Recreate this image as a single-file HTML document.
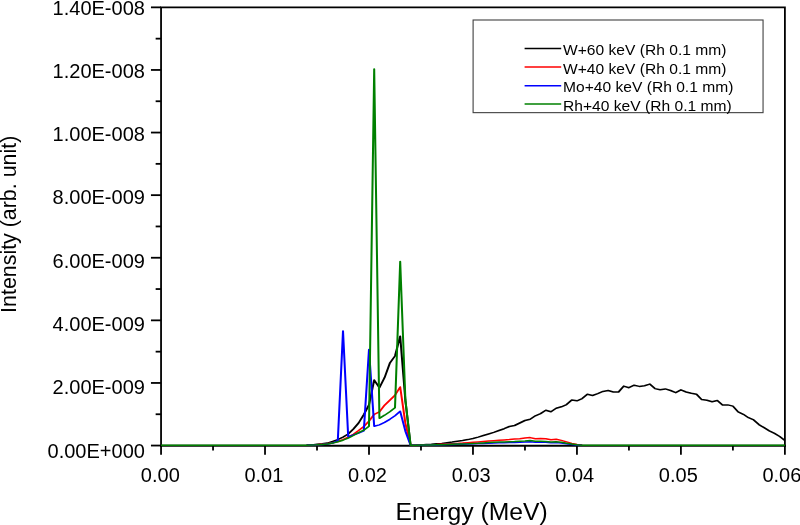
<!DOCTYPE html>
<html>
<head>
<meta charset="utf-8">
<title>Intensity vs Energy</title>
<style>
html,body{margin:0;padding:0;background:#fff;}
body{width:800px;height:525px;overflow:hidden;}
svg{display:block;will-change:transform;}
text{font-family:"Liberation Sans",sans-serif;fill:#000;}
.tk{font-size:20px;}
.lg{font-size:14.7px;}
</style>
</head>
<body>
<svg width="800" height="525" viewBox="0 0 800 525">
<rect x="0" y="0" width="800" height="525" fill="#ffffff"/>

<g stroke="#000" stroke-width="1.8" fill="none" stroke-linecap="butt">
<path d="M161.05 446.65 V7.35 H784.9 V446.65" stroke-linejoin="miter"/>
<line x1="160.15" y1="445.75" x2="785.80" y2="445.75"/>
<line x1="150.95" y1="445.55" x2="161.05" y2="445.55"/>
<line x1="155.65" y1="414.25" x2="161.05" y2="414.25"/>
<line x1="150.95" y1="382.95" x2="161.05" y2="382.95"/>
<line x1="155.65" y1="351.65" x2="161.05" y2="351.65"/>
<line x1="150.95" y1="320.35" x2="161.05" y2="320.35"/>
<line x1="155.65" y1="289.05" x2="161.05" y2="289.05"/>
<line x1="150.95" y1="257.75" x2="161.05" y2="257.75"/>
<line x1="155.65" y1="226.45" x2="161.05" y2="226.45"/>
<line x1="150.95" y1="195.15" x2="161.05" y2="195.15"/>
<line x1="155.65" y1="163.85" x2="161.05" y2="163.85"/>
<line x1="150.95" y1="132.55" x2="161.05" y2="132.55"/>
<line x1="155.65" y1="101.25" x2="161.05" y2="101.25"/>
<line x1="150.95" y1="69.95" x2="161.05" y2="69.95"/>
<line x1="155.65" y1="38.65" x2="161.05" y2="38.65"/>
<line x1="150.95" y1="7.35" x2="161.05" y2="7.35"/>
<line x1="161.05" y1="445.55" x2="161.05" y2="454.85"/>
<line x1="213.04" y1="445.55" x2="213.04" y2="450.55"/>
<line x1="265.02" y1="445.55" x2="265.02" y2="454.85"/>
<line x1="317.01" y1="445.55" x2="317.01" y2="450.55"/>
<line x1="369.00" y1="445.55" x2="369.00" y2="454.85"/>
<line x1="420.99" y1="445.55" x2="420.99" y2="450.55"/>
<line x1="472.97" y1="445.55" x2="472.97" y2="454.85"/>
<line x1="524.96" y1="445.55" x2="524.96" y2="450.55"/>
<line x1="576.95" y1="445.55" x2="576.95" y2="454.85"/>
<line x1="628.94" y1="445.55" x2="628.94" y2="450.55"/>
<line x1="680.92" y1="445.55" x2="680.92" y2="454.85"/>
<line x1="732.91" y1="445.55" x2="732.91" y2="450.55"/>
<line x1="784.90" y1="445.55" x2="784.90" y2="454.85"/>
</g>
<text class="tk" x="144.9" y="457.60" text-anchor="end">0.00E+000</text>
<text class="tk" x="144.9" y="394.30" text-anchor="end">2.00E-009</text>
<text class="tk" x="144.9" y="331.00" text-anchor="end">4.00E-009</text>
<text class="tk" x="144.9" y="267.70" text-anchor="end">6.00E-009</text>
<text class="tk" x="144.9" y="204.40" text-anchor="end">8.00E-009</text>
<text class="tk" x="144.9" y="141.10" text-anchor="end">1.00E-008</text>
<text class="tk" x="144.9" y="77.80" text-anchor="end">1.20E-008</text>
<text class="tk" x="144.9" y="14.50" text-anchor="end">1.40E-008</text>
<text class="tk" x="160.30" y="482.3" text-anchor="middle">0.00</text>
<text class="tk" x="263.90" y="482.3" text-anchor="middle">0.01</text>
<text class="tk" x="367.50" y="482.3" text-anchor="middle">0.02</text>
<text class="tk" x="471.10" y="482.3" text-anchor="middle">0.03</text>
<text class="tk" x="574.70" y="482.3" text-anchor="middle">0.04</text>
<text class="tk" x="678.30" y="482.3" text-anchor="middle">0.05</text>
<text class="tk" x="781.90" y="482.3" text-anchor="middle">0.06</text>
<text x="471.6" y="520.1" text-anchor="middle" font-size="24.7">Energy (MeV)</text>
<text transform="translate(15.7 224.3) rotate(-90)" text-anchor="middle" font-size="21.4">Intensity (arb. unit)</text>
<g transform="scale(1.35 1)">
<polyline points="227.12,445.1 230.97,444.9 234.82,444.3 238.67,443.8 242.53,443.1 246.38,441.5 250.23,439.6 254.08,437.1 257.93,434.0 261.78,429.0 265.63,423.0 269.48,414.6 273.33,404.9 277.18,380.1 281.04,387.7 284.89,377.6 288.74,363.2 292.59,356.0 296.44,336.2 300.29,400.5 304.14,445.2 307.99,445.1 311.84,444.9 315.69,444.6 319.54,444.3 323.40,443.8 327.25,443.4 331.10,442.7 334.95,442.1 338.80,441.3 342.65,440.6 346.50,439.6 350.35,438.5 354.20,437.1 358.05,435.5 361.90,434.0 365.76,432.4 369.61,430.5 373.46,428.7 377.31,426.5 381.16,425.5 385.01,423.0 388.86,420.5 392.71,419.3 396.56,415.8 400.41,413.6 404.26,410.2 408.12,411.8 411.97,408.3 415.82,406.8 419.67,404.6 423.52,399.9 427.37,400.8 431.22,398.6 435.07,394.2 438.92,395.5 442.77,393.6 446.62,391.4 450.48,390.5 454.33,392.0 458.18,392.0 462.03,386.1 465.88,387.7 469.73,385.2 473.58,386.4 477.43,385.8 481.28,384.1 485.13,388.6 488.99,389.8 492.84,388.9 496.69,390.5 500.54,392.7 504.39,389.8 508.24,392.0 512.09,393.3 515.94,394.2 519.79,399.6 523.64,400.2 527.49,401.7 531.35,400.5 535.20,404.9 539.05,404.9 542.90,406.1 546.75,411.8 550.60,414.3 554.45,417.7 558.30,419.9 562.15,424.6 566.00,427.7 569.85,430.9 573.71,433.4 577.56,436.5 581.41,440.6" fill="none" stroke="#000000" stroke-width="1.5" stroke-linejoin="round" stroke-linecap="butt"/>
<polyline points="227.12,445.2 230.97,445.0 234.82,444.7 238.67,444.3 242.53,443.7 246.38,442.7 250.23,441.5 254.08,439.6 257.93,437.1 261.78,434.3 265.63,430.5 269.48,426.5 273.33,421.1 277.18,414.3 281.04,411.8 284.89,405.2 288.74,400.2 292.59,395.2 296.44,387.0 300.29,423.3 304.14,445.2 307.99,445.2 311.84,445.1 315.69,444.9 319.54,444.8 323.40,444.6 327.25,444.3 331.10,444.0 334.95,443.7 338.80,443.4 342.65,443.1 346.50,442.7 350.35,442.3 354.20,441.9 358.05,441.5 361.90,441.1 365.76,440.7 369.61,440.3 373.46,439.9 377.31,439.6 381.16,439.1 385.01,438.7 388.86,438.1 392.71,437.6 396.56,438.8 400.41,438.6 404.26,438.8 408.12,439.8 411.97,439.3 415.82,440.4 419.67,441.9 423.52,443.4 427.37,444.5 431.22,445.1" fill="none" stroke="#ff0000" stroke-width="1.5" stroke-linejoin="round" stroke-linecap="butt"/>
<polyline points="227.12,445.2 230.97,445.0 234.82,444.8 238.67,444.5 242.53,444.0 246.38,443.1 250.23,440.6 254.08,331.0 257.93,436.8 261.78,434.9 265.63,433.0 269.48,430.9 273.33,349.6 277.18,426.2 281.04,424.9 284.89,422.4 288.74,419.3 292.59,415.8 296.44,411.3 300.29,431.2 304.14,445.2 307.99,445.2 311.84,445.2 315.69,445.1 319.54,445.0 323.40,444.9 327.25,444.8 331.10,444.6 334.95,444.5 338.80,444.3 342.65,444.2 346.50,444.0 350.35,443.8 354.20,443.6 358.05,443.4 361.90,443.2 365.76,443.0 369.61,442.8 373.46,442.7 377.31,442.6 381.16,442.4 385.01,442.2 388.86,442.0 392.71,441.7 396.56,442.2 400.41,442.1 404.26,442.2 408.12,442.7 411.97,442.5 415.82,443.0 419.67,443.7 423.52,444.4 427.37,444.9 431.22,445.2" fill="none" stroke="#0000ff" stroke-width="1.5" stroke-linejoin="round" stroke-linecap="butt"/>
<polyline points="119.30,445.2 207.87,445.2 211.72,445.2 215.57,445.2 219.42,445.2 223.27,445.2 227.12,445.2 230.97,445.0 234.82,444.8 238.67,444.5 242.53,444.0 246.38,443.1 250.23,441.8 254.08,440.2 257.93,438.1 261.78,435.5 265.63,432.7 269.48,430.2 273.33,426.2 277.18,69.0 281.04,418.3 284.89,415.2 288.74,411.8 292.59,407.7 296.44,261.4 300.29,399.9 304.14,445.2 307.99,445.2 311.84,445.1 315.69,445.1 319.54,445.0 323.40,444.8 327.25,444.7 331.10,444.5 334.95,444.3 338.80,444.1 342.65,443.9 346.50,443.7 350.35,443.4 354.20,443.2 358.05,442.9 361.90,442.6 365.76,442.3 369.61,442.1 373.46,442.0 377.31,441.8 381.16,441.6 385.01,441.3 388.86,441.1 392.71,440.6 396.56,441.3 400.41,441.2 404.26,441.4 408.12,441.9 411.97,441.7 415.82,442.3 419.67,443.2 423.52,444.1 427.37,444.8 431.22,445.2 435.07,445.2 581.41,445.2" fill="none" stroke="#008000" stroke-width="1.5" stroke-linejoin="round" stroke-linecap="butt"/>
</g>
<rect x="473.1" y="20.0" width="289.95" height="92.65" fill="#ffffff" stroke="#404040" stroke-width="1.1"/>
<line x1="524.6" y1="48.5" x2="561.2" y2="48.5" stroke="#000000" stroke-width="1.5"/>
<text class="lg" transform="translate(563.0 55.0) scale(1.062 1)">W+60 keV (Rh 0.1 mm)</text>
<line x1="524.6" y1="67.1" x2="561.2" y2="67.1" stroke="#ff0000" stroke-width="1.5"/>
<text class="lg" transform="translate(563.0 73.6) scale(1.062 1)">W+40 keV (Rh 0.1 mm)</text>
<line x1="524.6" y1="85.7" x2="561.2" y2="85.7" stroke="#0000ff" stroke-width="1.5"/>
<text class="lg" transform="translate(563.0 92.3) scale(1.062 1)">Mo+40 keV (Rh 0.1 mm)</text>
<line x1="524.6" y1="104.0" x2="561.2" y2="104.0" stroke="#008000" stroke-width="1.5"/>
<text class="lg" transform="translate(563.0 111.0) scale(1.062 1)">Rh+40 keV (Rh 0.1 mm)</text>
</svg>
</body>
</html>
